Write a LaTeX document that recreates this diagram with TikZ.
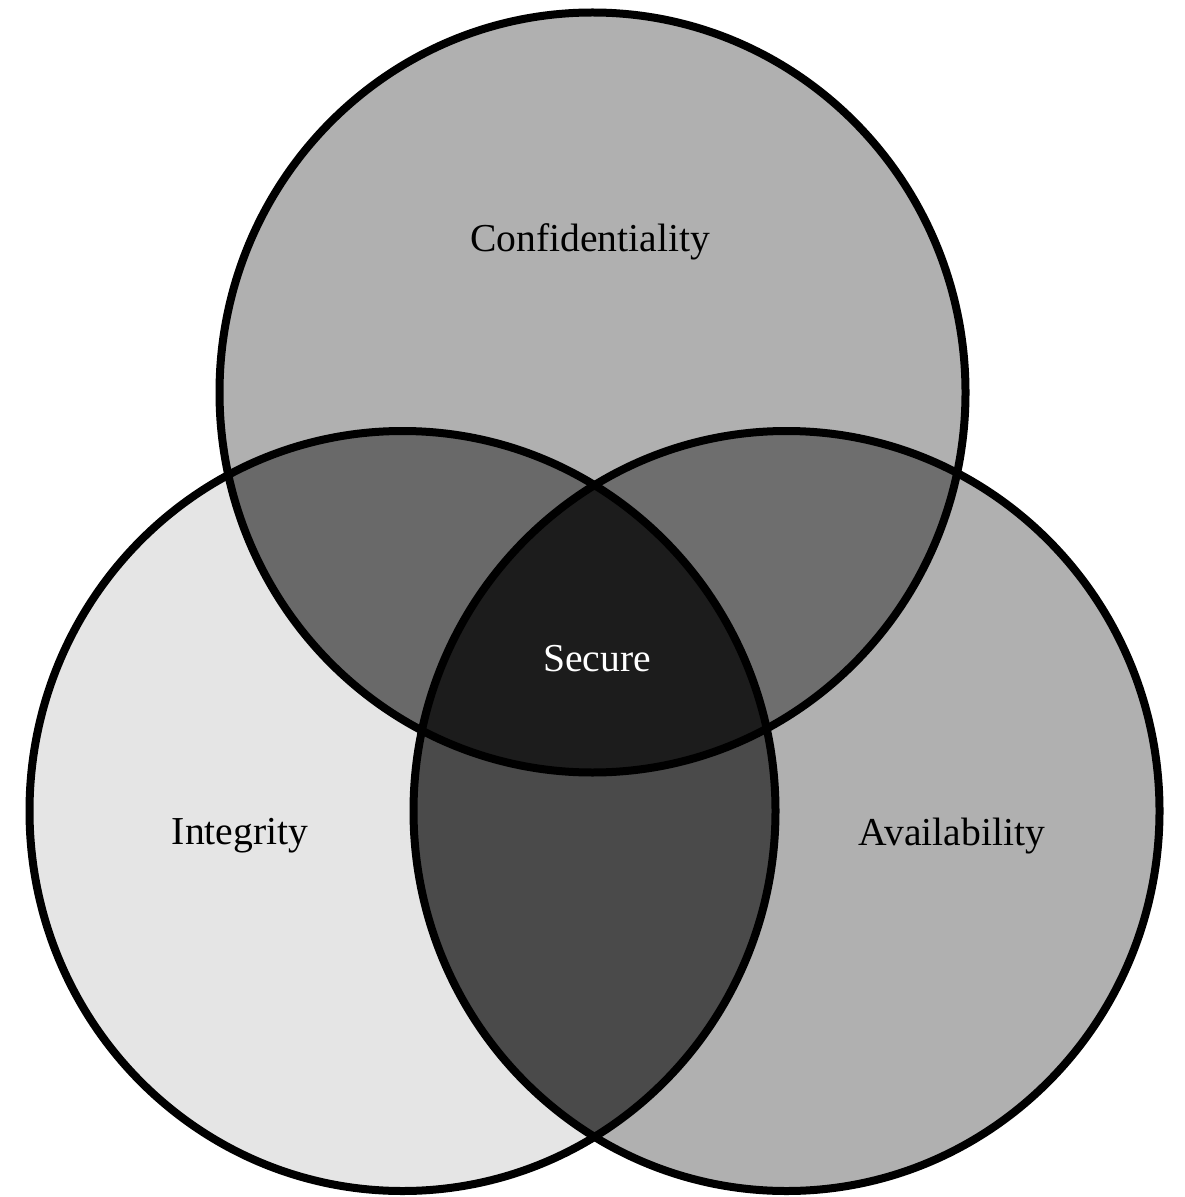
\documentclass[tikz,border=0pt]{standalone}
\usepackage{fontspec}
\setmainfont{Liberation Serif}
\definecolor{onlyC}{gray}{0.69}
\definecolor{onlyI}{gray}{0.90}
\definecolor{onlyA}{gray}{0.69}
\definecolor{pairCI}{gray}{0.41}
\definecolor{pairCA}{gray}{0.43}
\definecolor{pairIA}{gray}{0.29}
\definecolor{allthree}{gray}{0.11}
\tikzset{
  setlabel/.style={font=\fontsize{19.8pt}{24pt}\selectfont, text=black, inner sep=0pt},
  outline/.style={draw=black, line width=4pt},
  ring/.style={x radius=186.5pt, y radius=190pt}
}
\begin{document}
\begin{tikzpicture}[x=0.5pt,y=-0.5pt]
  \useasboundingbox (0,0) rectangle (1184,1197);
  \fill[white] (0,0) rectangle (1184,1197);
  % centres of the three sets
  \coordinate (C) at (592.5,392.5);
  \coordinate (I) at (402.5,811);
  \coordinate (A) at (786.5,811);
  % single-set regions
  \fill[onlyC] (C) ellipse[ring];
  \fill[onlyI] (I) ellipse[ring];
  \fill[onlyA] (A) ellipse[ring];
  % pairwise overlaps
  \begin{scope}
    \clip (C) ellipse[ring];
    \fill[pairCI] (I) ellipse[ring];
    \fill[pairCA] (A) ellipse[ring];
  \end{scope}
  \begin{scope}
    \clip (I) ellipse[ring];
    \fill[pairIA] (A) ellipse[ring];
  \end{scope}
  % triple overlap
  \begin{scope}
    \clip (C) ellipse[ring];
    \clip (I) ellipse[ring];
    \fill[allthree] (A) ellipse[ring];
  \end{scope}
  % outlines
  \draw[outline] (C) ellipse[ring];
  \draw[outline] (I) ellipse[ring];
  \draw[outline] (A) ellipse[ring];
  % labels
  \node[setlabel] (conf) at (590,242) {Confidentiality};
  \node[setlabel, text=white] (sec) at (597,659) {Secure};
  \node[setlabel] (integ) at (240,836) {Integrity};
  \node[setlabel] (avail) at (952,836) {Availability};
\end{tikzpicture}
\end{document}
